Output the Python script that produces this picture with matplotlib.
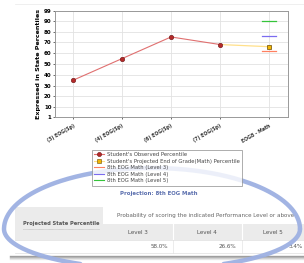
import numpy as np
import matplotlib
matplotlib.use("Agg")
import matplotlib.pyplot as plt
from matplotlib.lines import Line2D
from matplotlib.patches import Rectangle

# -----------------------------
# DATA
# -----------------------------
categories = ["(3) EOG(Sp)", "(4) EOG(Sp)", "(6) EOG(Sp)", "(7) EOG(Sp)", "EOG8 - Math"]
observed = [35, 55, 75, 68]
projected = 66
level3 = 62
level4 = 76
level5 = 90
yticks = [1, 10, 20, 30, 40, 50, 60, 70, 80, 90, 99]

table_title = "Projection: 8th EOG Math"
table_left_header = "Projected State Percentile"
table_top_header = "Probability of scoring the indicated Performance Level or above"
level_names = ["Level 3", "Level 4", "Level 5"]
level_probs = ["58.0%", "26.6%", "3.4%"]

# colours
obs_line = "#e07070"
obs_marker = "#b52a2a"
proj_line = "#ffe08a"
proj_marker = "#f2b705"
lvl_colors = ["#ff8060", "#7b6cf0", "#35c43a"]

W, H = 304, 263
fig = plt.figure(figsize=(W / 100, H / 100), dpi=100)

# background axes in pixel coords (table etc.)
bg = fig.add_axes([0, 0, 1, 1], zorder=0)
bg.set_xlim(0, W)
bg.set_ylim(H, 0)
bg.axis("off")

# faint top border line
bg.plot([15, 304], [4, 4], color="0.93", lw=0.6)

# table
gray = "#ebebeb"
bg.add_patch(Rectangle((15, 207), 88, 33, color=gray, lw=0))
bg.add_patch(Rectangle((103, 224), 201, 16, color=gray, lw=0))
for xc in [173, 242]:
    bg.plot([xc, xc], [224, 253], color="white", lw=0.8)
    bg.plot([xc, xc], [240, 253], color="#e4e4e4", lw=0.5)
bg.plot([15, 304], [240, 240], color="#dddddd", lw=0.5)
bg.plot([15, 304], [253, 253], color="#e0e0e0", lw=0.5)
# shadow at bottom
for i, a in enumerate([0.55, 0.35, 0.2, 0.1]):
    bg.plot([10, 304], [256 + i, 256 + i], color="0.35", alpha=a, lw=1.0)

bg.text(159, 193, table_title, ha="center", va="center", fontsize=3.9,
        color="#5b6fae", fontweight="bold")
bg.text(61, 224, table_left_header, ha="center", va="center", fontsize=3.7,
        color="#555555", fontweight="bold")
bg.plot([23, 99], [229, 229], color="#999999", lw=0.4, ls=(0, (1, 1)))
bg.text(206, 215.5, table_top_header, ha="center", va="center", fontsize=4.1,
        color="#666666")
for xc, name in zip([138, 207, 273], level_names):
    bg.text(xc, 232, name, ha="center", va="center", fontsize=4.1, color="#555555")
for xr, val in zip([168, 236, 303], level_probs):
    bg.text(xr, 246.5, val, ha="right", va="center", fontsize=4.1, color="#555555")

# -----------------------------
# CHART
# -----------------------------
ax = fig.add_axes([55 / W, 1 - 117 / H, 233 / W, 106 / H], zorder=1)
x = np.arange(len(categories))

ax.plot(x[:len(observed)], observed, color=obs_line, lw=0.8, zorder=3)
ax.plot(x[:len(observed)], observed, "o", color=obs_marker, ms=3.2,
        mec="#6b1515", mew=0.4, zorder=4)
ax.plot([x[len(observed) - 1], x[4]], [observed[-1], projected],
        color=proj_line, lw=0.9, zorder=3)
ax.plot([x[4]], [projected], "s", color=proj_marker, ms=3.2, mec="#6b4a00",
        mew=0.5, zorder=5)
for val, col in zip([level3, level4, level5], lvl_colors):
    ax.plot([x[4] - 0.15, x[4] + 0.15], [val, val], color=col, lw=0.9, zorder=2)

ax.set_xlim(-0.37, 4.39)
ax.set_ylim(1, 99)
ax.set_yticks(yticks)
ax.set_xticks(x)
ax.set_xticklabels(categories, rotation=30, ha="right", rotation_mode="anchor",
                   fontsize=3.3, fontweight="bold", color="#333333")
ax.tick_params(axis="y", labelsize=4, length=1.5, width=0.4, pad=1)
ax.tick_params(axis="x", length=1.5, width=0.4, pad=3)
for lab in ax.get_yticklabels():
    lab.set_fontweight("bold")
ax.grid(True, color="#e2e2e2", lw=0.6)
ax.set_axisbelow(True)
for sp in ax.spines.values():
    sp.set_color("#999999")
    sp.set_linewidth(0.7)
ax.set_ylabel("Expressed in State Percentiles", fontsize=4.6, fontweight="bold",
              labelpad=2)

handles = [
    Line2D([], [], color=obs_line, lw=0.8, marker="o", ms=3, mfc=obs_marker,
           mec="#6b1515", mew=0.4),
    Line2D([], [], color=proj_line, lw=0.8, marker="s", ms=3, mfc=proj_marker,
           mec="#6b4a00", mew=0.4),
    Line2D([], [], color=lvl_colors[0], lw=0.8),
    Line2D([], [], color=lvl_colors[1], lw=0.8),
    Line2D([], [], color=lvl_colors[2], lw=0.8),
]
labels = ["Student's Observed Percentile",
          "Student's Projected End of Grade(Math) Percentile",
          "8th EOG Math (Level 3)",
          "8th EOG Math (Level 4)",
          "8th EOG Math (Level 5)"]
leg = fig.legend(handles, labels, loc="upper left",
                 bbox_to_anchor=(89 / W, 1 - 147 / H), fontsize=3.75,
                 frameon=True, fancybox=False, handlelength=2.0,
                 handletextpad=0.5, labelspacing=0.3, borderpad=0.45)
leg.get_frame().set_edgecolor("#888888")
leg.get_frame().set_linewidth(0.6)
for t in leg.get_texts():
    t.set_color("#444444")

# -----------------------------
# hand-drawn ellipse overlay
# -----------------------------
ov = fig.add_axes([0, 0, 1, 1], zorder=3)
ov.set_xlim(0, W)
ov.set_ylim(H, 0)
ov.axis("off")
ov.patch.set_alpha(0)
t = np.linspace(0, 2 * np.pi, 400)
cx, cy, a = 152, 229, 148
ex = cx + a * np.cos(t)
ey = np.where(np.sin(t) < 0, cy + 61 * np.sin(t), cy + 40 * np.sin(t))
ov.plot(ex, ey, color="#9db0e2", lw=3.2, alpha=0.95, solid_capstyle="round")

fig.savefig("out.png", dpi=100)
